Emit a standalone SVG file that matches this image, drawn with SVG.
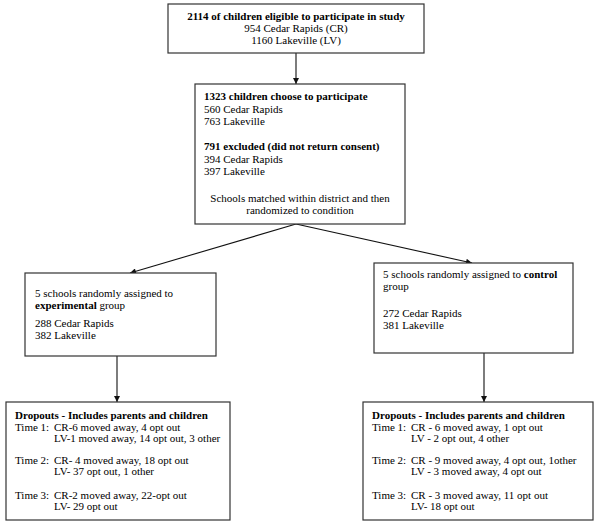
<svg xmlns="http://www.w3.org/2000/svg" width="600" height="523" viewBox="0 0 600 523">
<style>
.box{fill:#fff;stroke:#333;stroke-width:1.2}
text{font-family:"Liberation Serif","Times New Roman",serif;font-size:11px;fill:#000}
.b{font-weight:bold}
.c{text-anchor:middle}
.con{stroke:#111;stroke-width:1.1;fill:none}
</style>
<defs>
<marker id="ah" viewBox="0 0 10 10" refX="10" refY="5" markerWidth="7" markerHeight="6" markerUnits="userSpaceOnUse" orient="auto">
<path d="M0,0 L10,5 L0,10 z" fill="#111"/>
</marker>
</defs>
<rect width="600" height="523" fill="#fff"/>
<g id="connectors">
<line class="con" x1="296" y1="53" x2="296" y2="84" marker-end="url(#ah)"/>
<line class="con" x1="296" y1="224" x2="130" y2="273" marker-end="url(#ah)"/>
<line class="con" x1="296" y1="224" x2="472" y2="263" marker-end="url(#ah)"/>
<line class="con" x1="117" y1="356" x2="117" y2="402" marker-end="url(#ah)"/>
<line class="con" x1="484" y1="353" x2="484" y2="402" marker-end="url(#ah)"/>
</g>
<g id="eligible">
<rect class="box" x="168" y="4" width="256" height="49"/>
<text class="c" x="296" y="20"><tspan class="b">2114 of children eligible to participate in study</tspan><tspan x="296" y="32">954 Cedar Rapids (CR)</tspan><tspan x="296" y="44">1160 Lakeville (LV)</tspan></text>
</g>
<g id="participate">
<rect class="box" x="195" y="84" width="210" height="140"/>
<text x="204" y="100"><tspan class="b">1323 children choose to participate</tspan><tspan x="204" y="112.5">560 Cedar Rapids</tspan><tspan x="204" y="125">763 Lakeville</tspan><tspan x="204" y="150" class="b">791 excluded (did not return consent)</tspan><tspan x="204" y="162.5">394 Cedar Rapids</tspan><tspan x="204" y="175">397 Lakeville</tspan></text>
<text class="c" x="300" y="202">Schools matched within district and then<tspan x="300" y="214">randomized to condition</tspan></text>
</g>
<g id="experimental">
<rect class="box" x="25" y="273" width="191" height="83"/>
<text x="35" y="297">5 schools randomly assigned to<tspan x="35" y="309"><tspan class="b">experimental</tspan> group</tspan><tspan x="35" y="327">288 Cedar Rapids</tspan><tspan x="35" y="339">382 Lakeville</tspan></text>
</g>
<g id="control">
<rect class="box" x="374" y="263" width="199" height="90"/>
<text x="383" y="278">5 schools randomly assigned to <tspan class="b">control</tspan><tspan x="383" y="290">group</tspan><tspan x="383" y="317">272 Cedar Rapids</tspan><tspan x="383" y="329">381 Lakeville</tspan></text>
</g>
<g id="dropouts-experimental">
<rect class="box" x="6" y="402" width="224" height="118"/>
<text x="15" y="419" class="b">Dropouts - Includes parents and children</text>
<text x="15" y="431">Time 1:<tspan x="15" y="464">Time 2:</tspan><tspan x="15" y="499">Time 3:</tspan></text>
<text x="54" y="431">CR-6 moved away, 4 opt out<tspan x="54" y="442">LV-1 moved away, 14 opt out, 3 other</tspan><tspan x="54" y="464">CR- 4 moved away, 18 opt out</tspan><tspan x="54" y="475">LV- 37 opt out, 1 other</tspan><tspan x="54" y="499">CR-2 moved away, 22-opt out</tspan><tspan x="54" y="510">LV- 29 opt out</tspan></text>
</g>
<g id="dropouts-control">
<rect class="box" x="363" y="402" width="230" height="118"/>
<text x="372" y="419" class="b">Dropouts - Includes parents and children</text>
<text x="372" y="431">Time 1:<tspan x="372" y="464">Time 2:</tspan><tspan x="372" y="499">Time 3:</tspan></text>
<text x="411" y="431">CR - 6 moved away, 1 opt out<tspan x="411" y="442">LV - 2 opt out, 4 other</tspan><tspan x="411" y="464">CR - 9 moved away, 4 opt out, 1other</tspan><tspan x="411" y="475">LV - 3 moved away, 4 opt out</tspan><tspan x="411" y="499">CR - 3 moved away, 11 opt out</tspan><tspan x="411" y="510">LV- 18 opt out</tspan></text>
</g>
</svg>
